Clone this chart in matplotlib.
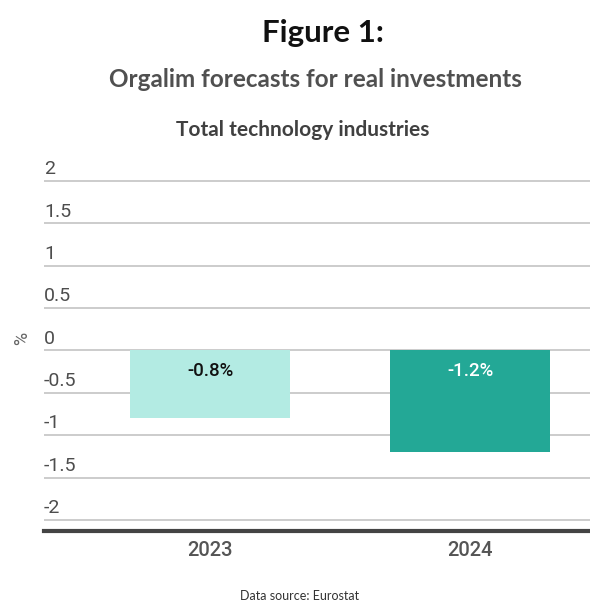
import matplotlib.pyplot as plt
import numpy as np

years = ['2023', '2024']
values = [-0.8, -1.2]
bar_colors = ['#b3ebe3', '#23a896']
label_colors = ['#111111', '#ffffff']
yticks = [2, 1.5, 1, 0.5, 0, -0.5, -1, -1.5, -2]

fig = plt.figure(figsize=(5.9, 6.04), dpi=100)
ax = fig.add_axes([0.0746, 0.1209, 0.9254, 0.6215])

x = np.arange(len(years))
ax.bar(x, values, width=0.615, color=bar_colors, zorder=2)

ax.set_xlim(-0.64, 1.46)
ax.set_ylim(-2.13, 2.3)

# gridlines with labels sitting on top of them
for v in yticks:
    ax.axhline(v, color='#c8c8c8', lw=1.3, zorder=1)
    ax.text(0, v + 0.08, f'{v:g}', transform=ax.get_yaxis_transform(),
            ha='left', va='baseline', fontsize=14, color='#4d4d4d',
            family='Roboto')
ax.axhline(-2.13, color='#444444', lw=3, zorder=3, clip_on=False)

for i, v in enumerate(values):
    ax.annotate(f'{v:.1f}%', (x[i], 0), xytext=(0, -8),
                textcoords='offset points', ha='center', va='top',
                fontsize=13.5, color=label_colors[i], family='Roboto',
                fontweight='medium')

ax.set_xticks(x)
ax.set_xticklabels(years, family='Roboto', fontsize=14.5, color='#555555',
                   fontweight='medium')
ax.tick_params(axis='x', length=0, pad=7)
ax.set_yticks([])
for s in ax.spines.values():
    s.set_visible(False)

fig.text(0.037, 0.44, '%', rotation=90, ha='center', va='center',
         fontsize=13, color='#666666', family='Roboto')

fig.text(0.548, 0.945, 'Figure 1:', ha='center', va='center',
         fontsize=22.5, fontweight='bold', color='#111111', family='Lato')
fig.text(0.535, 0.868, 'Orgalim forecasts for real investments', ha='center',
         va='center', fontsize=17.5, fontweight='bold', color='#505050',
         family='Lato')
fig.text(0.513, 0.785, 'Total technology industries', ha='center',
         va='center', fontsize=15, fontweight='bold', color='#404040',
         family='Lato')
fig.text(0.508, 0.003, 'Data source: Eurostat', ha='center', va='bottom',
         fontsize=9, color='#333333', family='Lato')

fig.savefig('out.png', dpi=100)
